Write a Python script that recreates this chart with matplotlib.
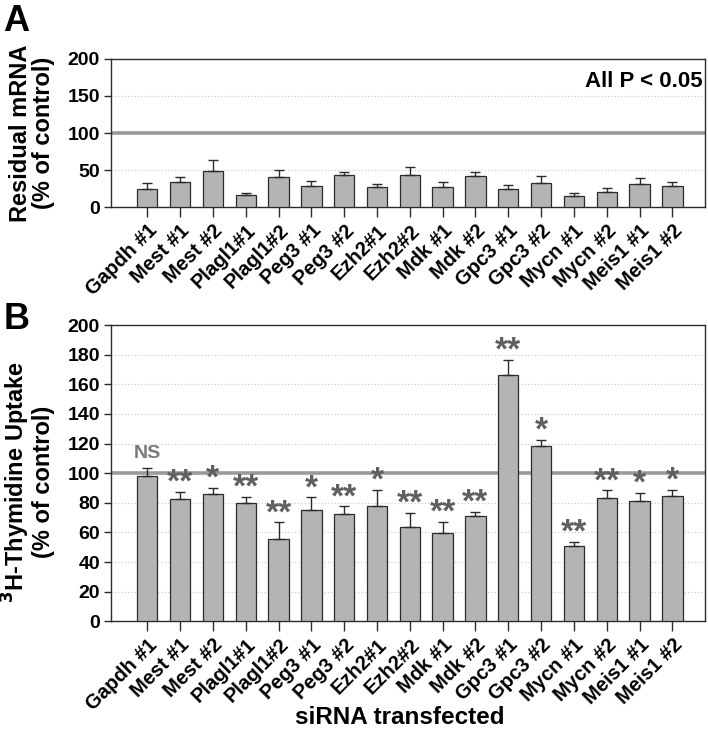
import matplotlib.pyplot as plt
import numpy as np

# dati
labels = ['Gapdh #1', 'Mest #1', 'Mest #2', 'Plagl1#1', 'Plagl1#2', 'Peg3 #1', 'Peg3 #2',
          'Ezh2#1', 'Ezh2#2', 'Mdk #1', 'Mdk #2', 'Gpc3 #1', 'Gpc3 #2', 'Mycn #1',
          'Mycn #2', 'Meis1 #1', 'Meis1 #2']

mrna = [24, 34, 49, 16.5, 40, 29, 43, 26.5, 43, 26.5, 42, 25, 32, 15, 20, 31.5, 28]
mrna_top = [32, 40, 63, 19, 50, 35, 47, 31, 53.5, 34, 47, 30, 42, 19.5, 25.5, 39.5, 34.5]

thym = [98, 82.7, 86, 80, 55.4, 75, 72.5, 78, 63.5, 59.5, 71.4, 166, 118, 50.7, 82.9, 81.3, 84.5]
thym_top = [103.4, 87.4, 90, 83.8, 66.7, 83.6, 77.5, 88.7, 73, 67, 74, 176.6, 122.7, 53.6,
            88.3, 86.5, 88.7]
signif = ['NS', '**', '*', '**', '**', '*', '**', '*', '**', '**', '**', '**', '*', '**',
          '**', '*', '*']

font = ['Liberation Sans', 'DejaVu Sans']

bar_color = '#b4b4b4'
edge = '#2b2b2b'
ref_color = '#9a9a9a'
ann_color = '#606060'

fig = plt.figure(figsize=(7.08, 7.37), dpi=100)
axA = fig.add_axes([0.157, 0.719, 0.839, 0.201])
axB = fig.add_axes([0.157, 0.157, 0.839, 0.402])

x = np.arange(len(labels))


def disegna(ax, values, tops, ymax, step):
    err = np.array(tops) - np.array(values)
    ax.bar(x, values, width=0.62, color=bar_color, edgecolor=edge, linewidth=0.9, zorder=3)
    ax.errorbar(x, values, yerr=[np.zeros(len(x)), err], fmt='none', ecolor=edge,
                elinewidth=1.0, capsize=3.7, capthick=1.0, zorder=4)
    ax.axhline(100, color=ref_color, lw=2.6, zorder=2)
    ax.set_ylim(0, ymax)
    ax.set_xlim(-1.1, 17.0)
    ticks = np.arange(0, ymax + 1, step)
    ax.set_yticks(ticks)
    for t in ticks[1:-1]:
        if t != 100:
            ax.axhline(t, color='#c8c8c8', lw=0.8, ls=(0, (1, 2)), zorder=1)
    ax.set_xticks(x)
    ax.set_xticklabels(labels, rotation=45, ha='right', rotation_mode='anchor',
                       family=font, fontweight='bold', fontsize=14.5)
    for lab in ax.get_yticklabels():
        lab.set_family(font)
        lab.set_fontweight('bold')
        lab.set_fontsize(14)
    ax.tick_params(axis='x', direction='out', length=7, width=1, color=edge, pad=3)
    ax.tick_params(axis='y', direction='out', length=5, width=1, color=edge, pad=3)
    for s in ax.spines.values():
        s.set_color(edge)
        s.set_linewidth(1.0)


disegna(axA, mrna, mrna_top, 200, 50)
disegna(axB, thym, thym_top, 200, 20)

axA.set_ylabel('Residual mRNA\n(% of control)', family=font, fontweight='bold',
               fontsize=17, linespacing=1.0)
axA.yaxis.set_label_coords(-0.094, 0.5)
axA.text(0.995, 0.85, 'All P < 0.05', transform=axA.transAxes, ha='right', va='center',
         family=font, fontweight='bold', fontsize=16)

axB.set_ylabel('$^{\\mathbf{3}}$H-Thymidine Uptake\n(% of control)', family=font,
               fontweight='bold', fontsize=17, linespacing=1.0)
axB.yaxis.set_label_coords(-0.094, 0.47)

fig.text(0.565, 1 - 718 / 737, 'siRNA transfected', ha='center', va='center',
         family=font, fontweight='bold', fontsize=17.5)

for i, s in enumerate(signif):
    if s == 'NS':
        axB.text(x[i], thym_top[i] + 4, s, ha='center', va='bottom', color='#7a7a7a',
                 family=font, fontweight='bold', fontsize=14)
    else:
        axB.text(x[i], thym_top[i] - 4.5, s, ha='center', va='bottom', color=ann_color,
                 family=font, fontweight='bold', fontsize=24)

fig.text(0.005, 0.995, 'A', ha='left', va='top', family=font, fontweight='bold', fontsize=26)
fig.text(0.005, 0.59, 'B', ha='left', va='top', family=font, fontweight='bold', fontsize=26)

fig.savefig('out.png', dpi=100)
